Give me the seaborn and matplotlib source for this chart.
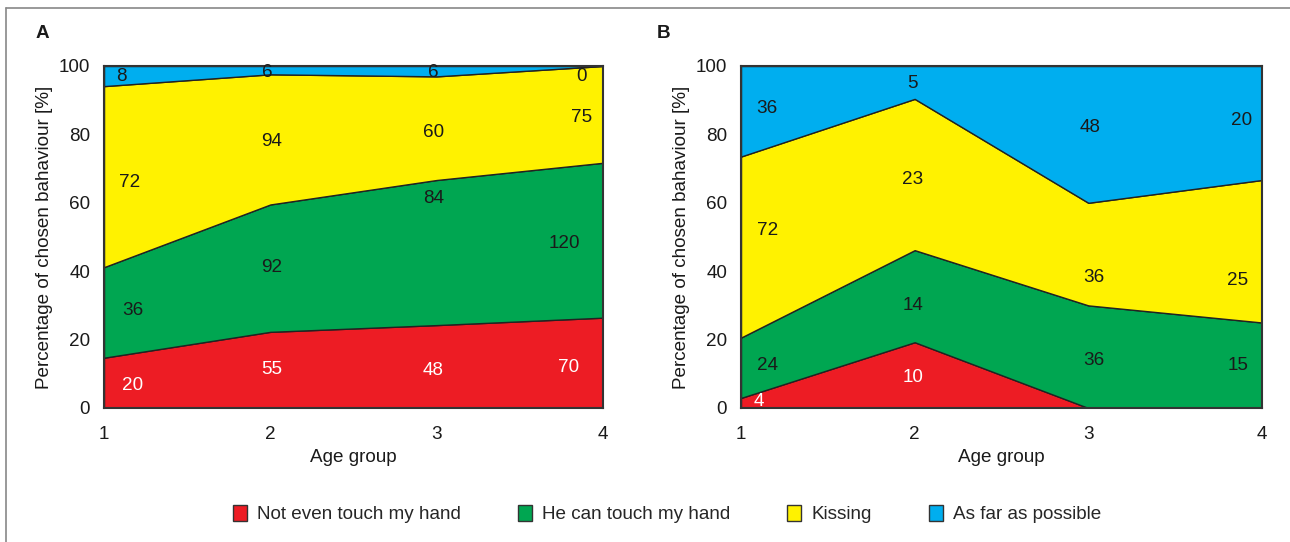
import numpy as np
import pandas as pd
import seaborn as sns
import matplotlib.pyplot as plt
from matplotlib.patches import Patch
from matplotlib.lines import Line2D

# Counts per age group for each behaviour category
age_groups = [1, 2, 3, 4]
categories = ["Not even touch my hand", "He can touch my hand", "Kissing", "As far as possible"]
colors = ["#ED1C24", "#00A651", "#FFF200", "#00AEEF"]

counts_a = {
    "Not even touch my hand": [20, 55, 48, 70],
    "He can touch my hand": [36, 92, 84, 120],
    "Kissing": [72, 94, 60, 75],
    "As far as possible": [8, 6, 6, 0],
}
counts_b = {
    "Not even touch my hand": [4, 10, 0, 0],
    "He can touch my hand": [24, 14, 36, 15],
    "Kissing": [72, 23, 36, 25],
    "As far as possible": [36, 5, 48, 20],
}

# Where each count label sits (x in age-group units, y in percent)
label_pos_a = {
    "Not even touch my hand": [(1.11, 6.7), (2.01, 11.4), (2.98, 11.0), (3.79, 11.7)],
    "He can touch my hand": [(1.11, 28.4), (2.01, 41.0), (2.98, 61.4), (3.77, 48.0)],
    "Kissing": [(1.09, 66.0), (2.01, 78.0), (2.98, 80.7), (3.87, 85.0)],
    "As far as possible": [(1.07, 97.0), (1.98, 98.0), (2.98, 98.0), (3.87, 97.0)],
}
label_pos_b = {
    "Not even touch my hand": [(1.07, 1.8), (1.99, 8.8), None, None],
    "He can touch my hand": [(1.09, 12.3), (1.99, 30.0), (3.03, 14.0), (3.86, 12.3)],
    "Kissing": [(1.09, 52.0), (1.99, 66.7), (3.03, 38.3), (3.86, 37.4)],
    "As far as possible": [(1.09, 87.7), (1.99, 95.0), (3.01, 82.0), (3.88, 84.0)],
}

FS = 13.6
INK = "#1a1a1a"

sns.set_theme(style="white")
plt.rcParams["font.family"] = ["Liberation Sans", "DejaVu Sans"]
plt.rcParams["font.size"] = FS

fig = plt.figure(figsize=(12.9, 5.42), dpi=100)
ax_a = fig.add_axes([104 / 1290, 1 - 408 / 542, 499 / 1290, 342 / 542])
ax_b = fig.add_axes([741 / 1290, 1 - 408 / 542, 521 / 1290, 342 / 542])


def draw_panel(ax, counts, label_pos, letter, letter_x):
    df = pd.DataFrame(counts, index=age_groups)
    pct = df.div(df.sum(axis=1), axis=0) * 100
    ax.stackplot(age_groups, *[pct[c].values for c in categories],
                 colors=colors, edgecolor="#222222", linewidth=1.0)
    for ci, c in enumerate(categories):
        for gi, pos in enumerate(label_pos[c]):
            if pos is None:
                continue
            ax.text(pos[0], pos[1], str(counts[c][gi]), ha="left" if gi == 0 else "center",
                    va="center", fontsize=FS,
                    color="white" if ci == 0 else INK)
    ax.set_xlim(1, 4)
    ax.set_ylim(0, 100)
    ax.set_xticks(age_groups)
    ax.set_yticks([0, 20, 40, 60, 80, 100])
    ax.tick_params(axis="both", length=0, labelsize=FS, colors=INK)
    ax.tick_params(axis="x", pad=13)
    ax.tick_params(axis="y", pad=10)
    ax.set_xlabel("Age group", fontsize=FS, color=INK, labelpad=4)
    ax.set_ylabel("Percentage of chosen bahaviour [%]", fontsize=FS, color=INK, labelpad=4)
    for s in ax.spines.values():
        s.set_color("#333333")
        s.set_linewidth(1.5)
    ax.text(letter_x, 1.096, letter, transform=ax.transAxes, fontsize=FS,
            fontweight="bold", ha="left", va="center", color=INK)


draw_panel(ax_a, counts_a, label_pos_a, "A", -0.137)
draw_panel(ax_b, counts_b, label_pos_b, "B", -0.161)

handles = [Patch(facecolor=col, edgecolor="#333333", linewidth=1.0, label=c)
           for c, col in zip(categories, colors)]
fig.legend(handles=handles, loc="center", bbox_to_anchor=(667 / 1290, 1 - 514 / 542),
           ncol=4, frameon=False, fontsize=FS, handlelength=0.75, handleheight=0.9,
           handletextpad=0.55, columnspacing=3.0)

# Outer frame lines along top and left edges
fig.add_artist(Line2D([6 / 1290, 1], [1 - 8 / 542, 1 - 8 / 542], color="#888888", linewidth=1.2))
fig.add_artist(Line2D([6 / 1290, 6 / 1290], [0, 1 - 8 / 542], color="#888888", linewidth=1.2))

fig.savefig("out.png", dpi=100)
